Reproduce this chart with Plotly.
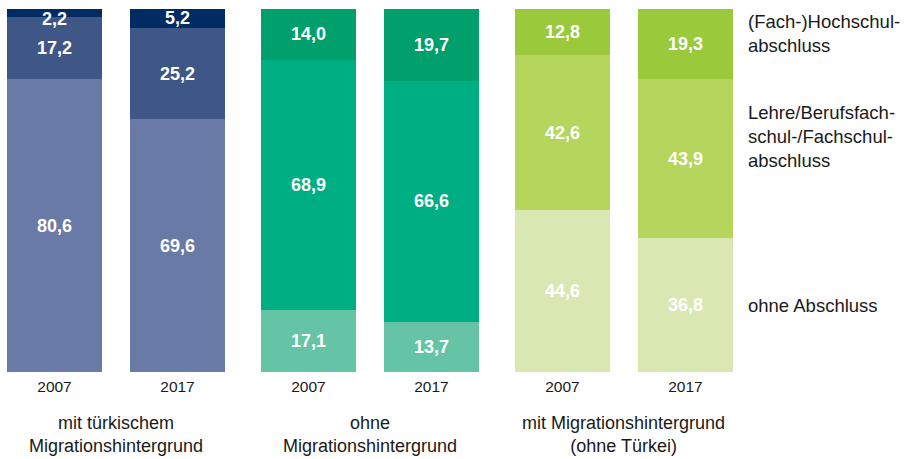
import plotly.graph_objects as go

# data (percent)
years = ["2007", "2017", "2007", "2017", "2007", "2017"]
groups = [
    "mit türkischem<br>Migrationshintergrund",
    "ohne<br>Migrationshintergrund",
    "mit Migrationshintergrund<br>(ohne Türkei)",
]
ohne_abschluss = [80.6, 69.6, 17.1, 13.7, 44.6, 36.8]
lehre = [17.2, 25.2, 68.9, 66.6, 42.6, 43.9]
hochschul = [2.2, 5.2, 14.0, 19.7, 12.8, 19.3]

legend_labels = [
    "ohne Abschluss",
    "Lehre/Berufsfach-<br>schul-/Fachschul-<br>abschluss",
    "(Fach-)Hochschul-<br>abschluss",
]

# colours per group (bottom, middle, top)
colors = [
    ["#6a7aa6", "#3e5787", "#002c63"],
    ["#66c4a6", "#00ae84", "#009f6b"],
    ["#d9e8b3", "#b5d55c", "#9bc93c"],
]

FONT = "Liberation Sans, Arial, sans-serif"
LABEL_FONT = dict(family=FONT, size=18, color="white", weight="bold")
group_gap = 0.065
xpos = [g * (2 + group_gap) + i for g in range(3) for i in range(2)]


def fmt(v):
    return f"{v:.1f}".replace(".", ",")


fig = go.Figure()
for level, vals in enumerate([ohne_abschluss, lehre, hochschul]):
    # very thin segments get their label as an annotation below (see further down)
    texts = [fmt(v) if v >= 4 else "" for v in vals]
    fig.add_trace(go.Bar(
        x=xpos,
        y=vals,
        width=0.772,
        marker=dict(color=[colors[k // 2][level] for k in range(6)], line=dict(width=0)),
        text=texts,
        textposition="inside",
        insidetextanchor="middle",
        constraintext="none",
        cliponaxis=False,
        textfont=LABEL_FONT,
        hoverinfo="skip",
        name=legend_labels[level],
    ))

# labels of thin top segments, pushed a bit down so they stay readable
for k, v in enumerate(hochschul):
    if v < 4:
        base = ohne_abschluss[k] + lehre[k]
        fig.add_annotation(
            x=xpos[k], y=base + v / 2, xref="x", yref="y", yanchor="middle",
            yshift=-6, text=fmt(v), showarrow=False, font=LABEL_FONT,
        )

# group labels under the year labels
for g, label in enumerate(groups):
    fig.add_annotation(
        x=(xpos[2 * g] + xpos[2 * g + 1]) / 2, y=-0.172, xref="x", yref="paper",
        yanchor="middle", text=label, showarrow=False,
        font=dict(family=FONT, size=18, color="#1a1a1a"), align="center",
    )

# legend texts on the right
legend_y = [0.182, 0.650, 0.932]
for label, yy in zip(legend_labels, legend_y):
    fig.add_annotation(
        x=1, y=yy, xref="paper", yref="paper", xanchor="left", yanchor="middle",
        xshift=6, text=label, showarrow=False, align="left",
        font=dict(family=FONT, size=18.5, color="#1a1a1a"),
    )

fig.update_layout(
    barmode="stack",
    width=912,
    height=459,
    margin=dict(l=0, r=172, t=9, b=87),
    paper_bgcolor="white",
    plot_bgcolor="white",
    showlegend=False,
    font=dict(family=FONT),
)
fig.update_xaxes(
    range=[-0.443, -0.443 + 740 / 123],
    tickvals=xpos, ticktext=years,
    tickfont=dict(family=FONT, size=15.5, color="#1a1a1a"),
    ticklabelstandoff=3,
    showgrid=False, zeroline=False, showline=False, ticks="",
)
fig.update_yaxes(range=[0, 100], visible=False)

fig.write_html(
    "out.html",
    config={"displayModeBar": False},
    post_script="document.body.style.margin='0';",
)
